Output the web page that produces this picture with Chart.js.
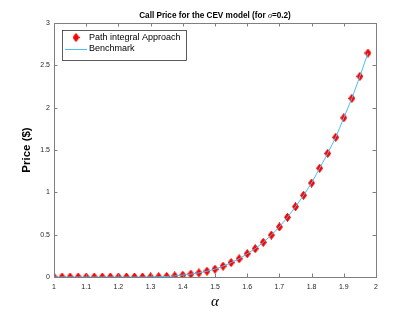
<!DOCTYPE html>
<html><head><meta charset="utf-8">
<script src="https://cdn.jsdelivr.net/npm/chart.js@4.4.1/dist/chart.umd.min.js"></script>
<style>html,body{margin:0;padding:0;background:#fff}#wrap{width:415px;height:312px}</style>
</head><body><div id="wrap"><canvas id="c" width="415" height="312"></canvas></div>
<script>
const alphaValues = [1,1.025,1.05,1.075,1.1,1.125,1.15,1.175,1.2,1.225,1.25,1.275,1.3,1.325,1.35,1.375,1.4,1.425,1.45,1.475,1.5,1.525,1.55,1.575,1.6,1.625,1.65,1.675,1.7,1.725,1.75,1.775,1.8,1.825,1.85,1.875,1.9,1.925,1.95,1.975];
const pathIntegralPrices = [0,0,0,0,0,0,0,0,0,0,0,0,0.001,0.003,0.007,0.013,0.022,0.034,0.048,0.068,0.093,0.128,0.17,0.215,0.275,0.335,0.41,0.495,0.592,0.705,0.83,0.965,1.11,1.285,1.46,1.65,1.88,2.11,2.37,2.645];
const benchmarkPrices = [0,0,0,0,0,0,0,0,0,0,0,0,0.001,0.003,0.007,0.013,0.022,0.034,0.048,0.068,0.093,0.128,0.17,0.215,0.275,0.335,0.41,0.495,0.592,0.705,0.83,0.965,1.11,1.285,1.46,1.65,1.88,2.11,2.37,2.645];
const xTicks = [1,1.1,1.2,1.3,1.4,1.5,1.6,1.7,1.8,1.9,2];
const yTicks = [0,0.5,1,1.5,2,2.5,3];
const seriesNames = ['Path integral Approach','Benchmark'];

// diamond marker
function diamond(w,h){
  const c=document.createElement('canvas');c.width=w;c.height=h;
  const g=c.getContext('2d');g.fillStyle='#ff0000';g.strokeStyle='#e00000';g.lineWidth=1;
  g.beginPath();g.moveTo(w/2,0.5);g.lineTo(w-0.5,h/2);g.lineTo(w/2,h-0.5);g.lineTo(0.5,h/2);g.closePath();g.fill();g.stroke();
  return c;
}
const marker = diamond(7,9);

const AXC='#262626';
const deco={
  id:'deco',
  afterDraw(chart){
    const {ctx,chartArea:a,scales:{x,y}}=chart;
    ctx.save();
    ctx.strokeStyle='#7f7f7f';ctx.lineWidth=1;
    ctx.strokeRect(Math.round(a.left)+0.5,Math.round(a.top)+0.5,Math.round(a.right-a.left),Math.round(a.bottom-a.top));
    const tl=3.5;
    ctx.beginPath();
    xTicks.forEach(v=>{const px=Math.round(x.getPixelForValue(v))+0.5;ctx.moveTo(px,a.bottom);ctx.lineTo(px,a.bottom-tl);ctx.moveTo(px,a.top);ctx.lineTo(px,a.top+tl);});
    yTicks.forEach(v=>{const py=Math.round(y.getPixelForValue(v))+0.5;ctx.moveTo(a.left,py);ctx.lineTo(a.left+tl,py);ctx.moveTo(a.right,py);ctx.lineTo(a.right-tl,py);});
    ctx.stroke();
    // title
    ctx.fillStyle='#000';ctx.textBaseline='alphabetic';
    const fs='bold 8.2px "Liberation Sans", sans-serif', fi='italic 8.2px "Liberation Serif", serif';
    const t1='Call Price for the CEV model (for ';
    ctx.font=fs;const w1=ctx.measureText(t1).width;
    ctx.font=fi;const w2=ctx.measureText('σ').width;
    ctx.font=fs;const t3='=0.2)';const w3=ctx.measureText(t3).width;
    let sx=(a.left+a.right)/2-(w1+w2+w3)/2;const ty=18;
    ctx.textAlign='left';
    ctx.fillText(t1,sx,ty);
    ctx.font=fi;ctx.fillText('σ',sx+w1,ty);
    ctx.font=fs;ctx.fillText(t3,sx+w1+w2,ty);
    // x label
    ctx.font='italic 15px "Liberation Serif", serif';ctx.textAlign='center';
    ctx.fillText('α',(a.left+a.right)/2,306);
    // y label
    ctx.save();ctx.translate(30,(a.top+a.bottom)/2);ctx.rotate(-Math.PI/2);
    ctx.font='bold 11.5px "Liberation Sans", sans-serif';ctx.textAlign='center';ctx.fillText('Price ($)',0,0);
    ctx.restore();
    // legend
    const lx=62,ly=30,lw=124,lh=30;
    ctx.fillStyle='#fff';ctx.fillRect(lx,ly,lw,lh);
    ctx.strokeStyle='#262626';ctx.lineWidth=0.75;ctx.strokeRect(lx+0.5,ly+0.5,lw,lh);
    ctx.drawImage(marker,76-3.5,37.5-4.5);
    ctx.strokeStyle='#4DBEEE';ctx.lineWidth=1;ctx.beginPath();ctx.moveTo(65,49.5);ctx.lineTo(87,49.5);ctx.stroke();
    ctx.fillStyle='#000';ctx.font='9px "Liberation Sans", sans-serif';ctx.textAlign='left';ctx.textBaseline='middle';
    ctx.fillText(chart.data.datasets[1].label,89,38);
    ctx.fillText(chart.data.datasets[0].label,89,49);
    ctx.restore();
  }
};

new Chart(document.getElementById('c'),{
  type:'scatter',
  data:{datasets:[
    {label:seriesNames[1],type:'line',data:alphaValues.map((a,i)=>({x:a,y:benchmarkPrices[i]})),borderColor:'#4DBEEE',borderWidth:1,pointRadius:0,fill:false,tension:0,order:0},
    {label:seriesNames[0],data:alphaValues.map((a,i)=>({x:a,y:pathIntegralPrices[i]})),pointStyle:marker,pointRadius:5,backgroundColor:'#ff0000',borderColor:'#ff0000',showLine:false,order:1}
  ]},
  options:{
    responsive:false,animation:false,devicePixelRatio:1,
    layout:{padding:{left:0,right:39,top:23,bottom:0}},
    plugins:{legend:{display:false},tooltip:{enabled:false},title:{display:false}},
    scales:{
      x:{type:'linear',min:1,max:2,afterBuildTicks(s){s.ticks=xTicks.map(v=>({value:v}));},
        grid:{display:false,drawTicks:false},border:{display:false},
        ticks:{color:AXC,font:{size:7,family:'"Liberation Sans", sans-serif'},padding:6,maxRotation:0,autoSkip:false,callback:v=>String(v)},
        afterFit(s){s.height=35;}},
      y:{type:'linear',min:0,max:3,afterBuildTicks(s){s.ticks=yTicks.map(v=>({value:v}));},
        grid:{display:false,drawTicks:false},border:{display:false},
        ticks:{color:AXC,font:{size:7,family:'"Liberation Sans", sans-serif'},padding:4,autoSkip:false,callback:v=>String(v)},
        afterFit(s){s.width=54;}}
    }
  },
  plugins:[deco]
});
</script></body></html>
